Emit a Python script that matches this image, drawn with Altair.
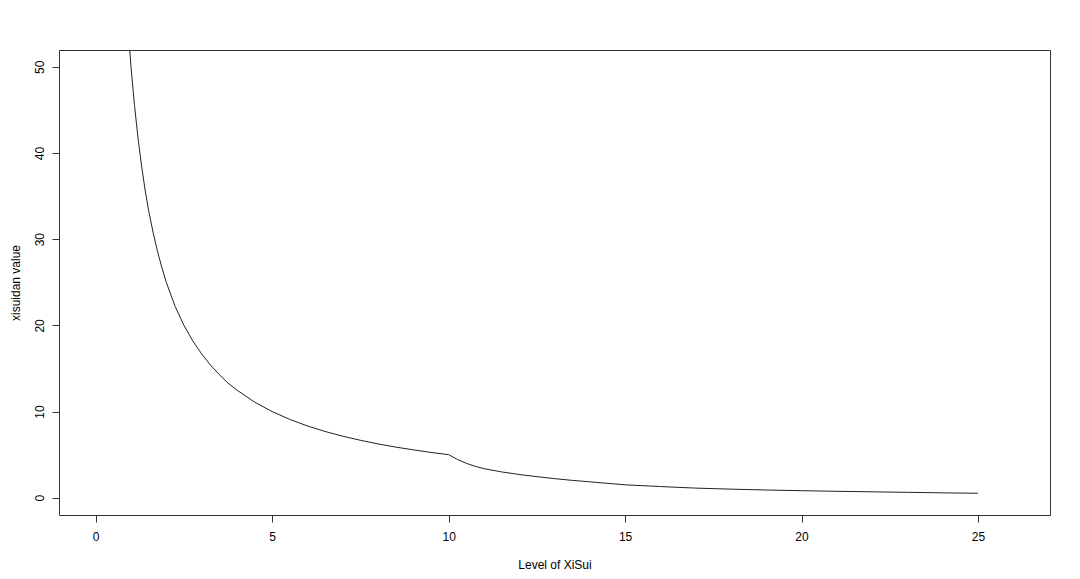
import altair as alt
import pandas as pd

# Values
level = [0.9, 1.0, 1.1, 1.2, 1.3, 1.4, 1.5, 1.625, 1.75, 1.875, 2.0, 2.25, 2.5, 2.75,
         3.0, 3.25, 3.5, 3.75, 4.0, 4.5, 5.0, 5.5, 6.0, 6.5, 7.0, 7.5, 8.0, 8.5, 9.0, 9.5, 10.0,
         10.25, 10.5, 10.75, 11.0, 11.5, 12.0, 12.5, 13.0, 13.5, 14.0, 15.0, 16.0, 17.0,
         18.0, 19.0, 20.0, 21.0, 22.0, 23.0, 24.0, 25.0]
value = [55.6, 50.0, 45.5, 41.7, 38.5, 35.7, 33.3, 30.8, 28.6, 26.7, 25.0, 22.2, 20.0, 18.2,
         16.7, 15.4, 14.3, 13.3, 12.5, 11.1, 10.0, 9.09, 8.33, 7.69, 7.14, 6.67, 6.25, 5.88, 5.56, 5.26, 5.0,
         4.45, 4.0, 3.65, 3.38, 3.0, 2.7, 2.45, 2.22, 2.02, 1.85, 1.5, 1.3, 1.12,
         1.0, 0.9, 0.82, 0.75, 0.69, 0.63, 0.57, 0.52]

x_ticks = [0, 5, 10, 15, 20, 25]
y_ticks = [0, 10, 20, 30, 40, 50]

df = pd.DataFrame({"level": level, "value": value})

FONT = "Liberation Sans"
W, H = 991, 465

chart = alt.Chart(df).mark_line(color="#222222", strokeWidth=1, clip=True).encode(
    x=alt.X("level:Q",
            scale=alt.Scale(domain=[-1.04, 27.04], nice=False, zero=False),
            axis=alt.Axis(values=x_ticks, title="Level of XiSui", grid=False, domain=False,
                          tickSize=7, tickColor="#333333", labelColor="black",
                          labelFont=FONT, labelFontSize=12, labelPadding=9,
                          labelBaseline="top",
                          titleFont=FONT, titleFontSize=12, titleFontWeight="normal",
                          titleColor="black", titleY=49.5, titleBaseline="middle")),
    y=alt.Y("value:Q",
            scale=alt.Scale(domain=[-2.0, 51.95], nice=False, zero=False),
            axis=alt.Axis(values=y_ticks, title="xisuidan value", grid=False, domain=False,
                          tickSize=7, tickColor="#333333", labelColor="black",
                          labelFont=FONT, labelFontSize=12, labelPadding=9,
                          labelAngle=270, labelAlign="center", labelBaseline="alphabetic",
                          titleFont=FONT, titleFontSize=12, titleFontWeight="normal",
                          titleColor="black", titleAngle=270, titleX=-44, titleY=H / 2,
                          titleAlign="center", titleBaseline="middle")),
).properties(
    width=W, height=H,
    background="white",
    autosize=alt.AutoSizeParams(type="none"),
    padding={"left": 51, "top": 42, "right": 22, "bottom": 56},
).configure_view(
    stroke="#333333", strokeWidth=1
)

chart.save("out.html", embed_options={"renderer": "svg", "actions": False})
